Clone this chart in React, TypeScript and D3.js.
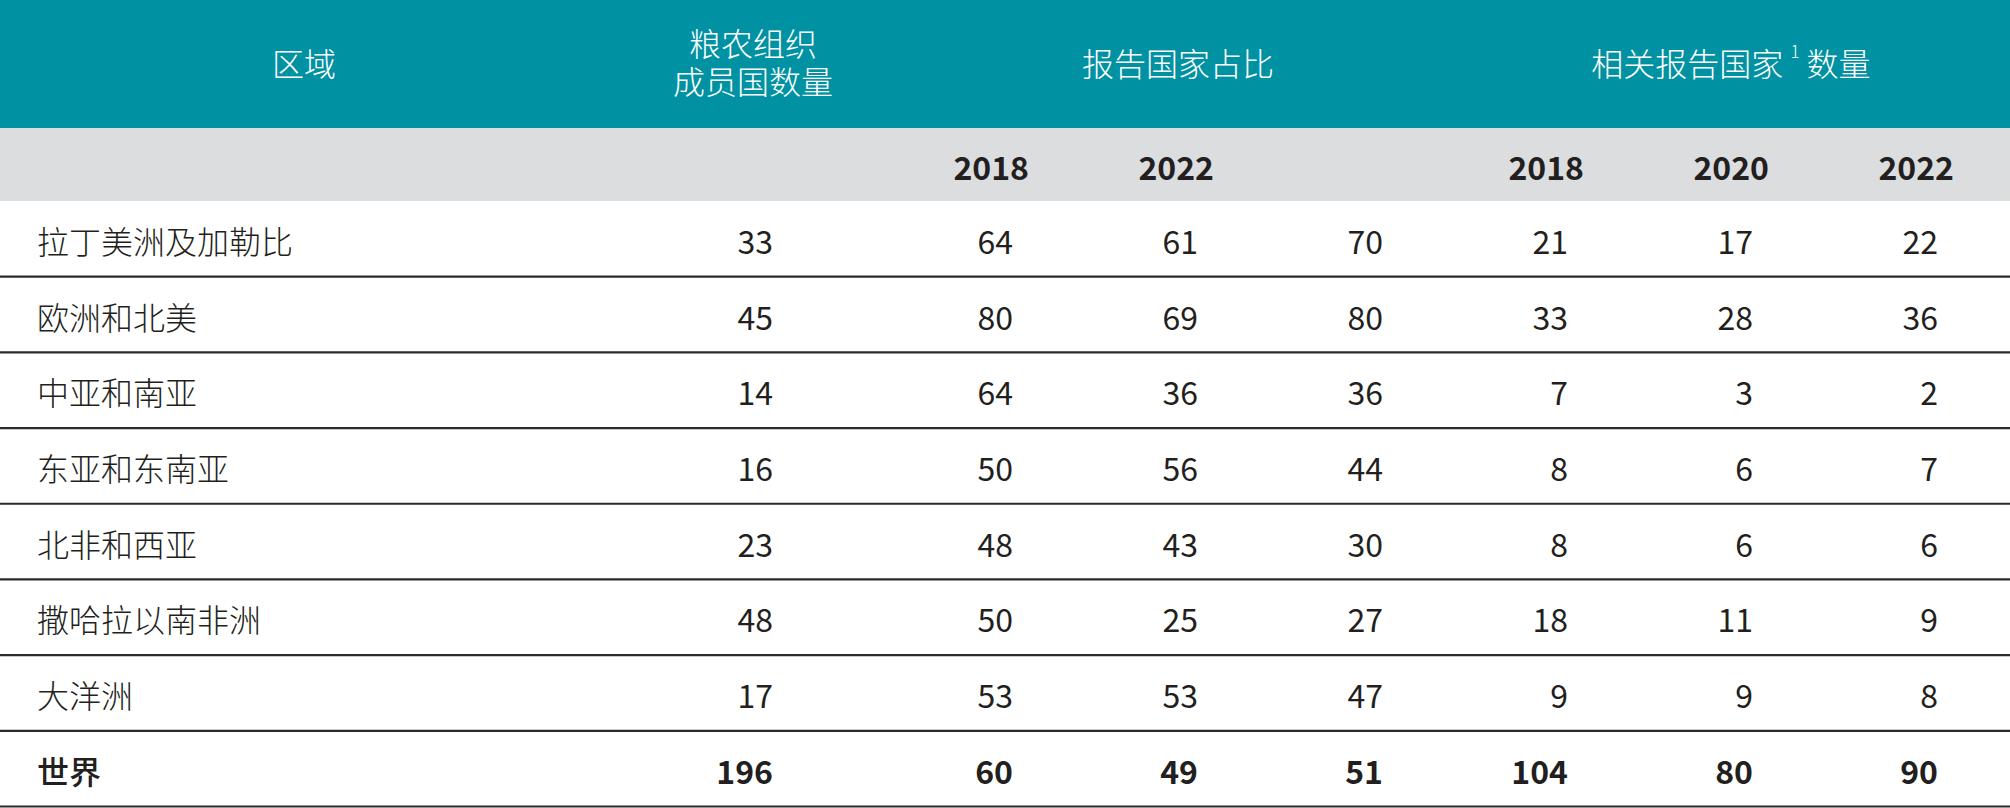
import React, { useRef, useEffect } from "react";
import * as d3 from "d3";

// ─── Table data ─────────────────────────────────────────────────────────
const regions = [
  "拉丁美洲及加勒比",
  "欧洲和北美",
  "中亚和南亚",
  "东亚和东南亚",
  "北非和西亚",
  "撒哈拉以南非洲",
  "大洋洲",
  "世界",
];
const memberCounts = [33, 45, 14, 16, 23, 48, 17, 196];
const share2018 = [64, 80, 64, 50, 48, 50, 53, 60];
const share2022 = [61, 69, 36, 56, 43, 25, 53, 49];
const shareNoLabel = [70, 80, 36, 44, 30, 27, 47, 51];
const count2018 = [21, 33, 7, 8, 8, 18, 9, 104];
const count2020 = [17, 28, 3, 6, 6, 11, 9, 80];
const count2022 = [22, 36, 2, 7, 6, 9, 8, 90];

const valueColumns = [share2018, share2022, shareNoLabel, count2018, count2020, count2022];
const yearLabels = ["2018", "2022", "", "2018", "2020", "2022"];
const totalRow = "世界";

const W = 2010;
const H = 808;
const FONT = "'Noto Sans CJK SC', 'Noto Sans', sans-serif";

const App = () => {
  const svgRef = useRef<SVGSVGElement>(null);

  useEffect(() => {
    const headerH = 128;
    const subBottom = 201;
    const tableBottom = 806.5;
    const teal = "#0091A2";
    const grey = "#DCDDDF";
    const ink = "#231F20";

    const svg = d3.select(svgRef.current);
    svg.selectAll("*").remove();

    // column positions (right edge of numbers)
    const memberX = 773;
    const x = d3
      .scalePoint<number>()
      .domain(d3.range(valueColumns.length))
      .range([1013, 1938]);

    const y = d3
      .scaleBand<string>()
      .domain(regions)
      .range([subBottom, tableBottom]);

    // ─── backgrounds ───────────────────────────────────────────────────
    svg.append("rect").attr("x", 0).attr("y", 0).attr("width", W).attr("height", headerH).attr("fill", teal);
    svg.append("rect").attr("x", 0).attr("y", headerH).attr("width", W).attr("height", subBottom - headerH).attr("fill", grey);

    // ─── header texts ──────────────────────────────────────────────────
    const head = svg.append("g")
      .attr("fill", "#ffffff")
      .style("font-family", FONT)
      .style("font-size", "32px")
      .style("font-weight", "300")
      .attr("text-anchor", "middle")
      .attr("dominant-baseline", "central");

    head.append("text").attr("x", 304).attr("y", 62).text("区域");
    head.append("text").attr("x", memberX - 20).attr("y", 42).text("粮农组织");
    head.append("text").attr("x", memberX - 20).attr("y", 80).text("成员国数量");

    const shareCenter = ((x(0) as number) + (x(2) as number)) / 2 - 20;
    head.append("text").attr("x", shareCenter).attr("y", 62).text("报告国家占比");

    const countCenter = ((x(3) as number) + (x(5) as number)) / 2 - 22;
    const t = head.append("text").attr("x", countCenter).attr("y", 62);
    t.append("tspan").text("相关报告国家 ");
    t.append("tspan").attr("dy", -12).style("font-size", "17px").text("1");
    t.append("tspan").attr("dy", 12).text(" 数量");

    // ─── sub header (years) ────────────────────────────────────────────
    svg.append("g")
      .selectAll("text")
      .data(yearLabels)
      .join("text")
      .attr("x", (_, i) => (x(i) as number) + 16)
      .attr("y", (headerH + subBottom) / 2 + 1)
      .attr("text-anchor", "end")
      .attr("dominant-baseline", "central")
      .attr("fill", ink)
      .style("font-family", FONT)
      .style("font-size", "32px")
      .style("font-weight", "700")
      .text((d) => d);

    // ─── body rows ─────────────────────────────────────────────────────
    const rows = svg.append("g")
      .selectAll("g")
      .data(regions)
      .join("g")
      .attr("transform", (d) => `translate(0,${y(d)})`)
      .style("font-family", FONT)
      .style("font-size", "32px")
      .style("font-weight", (d) => (d === totalRow ? "700" : "400"))
      .attr("fill", ink);

    const mid = y.bandwidth() / 2 + 1;

    // region label: total row is only a touch heavier in the source
    rows.append("text")
      .attr("x", 37)
      .attr("y", mid)
      .attr("dominant-baseline", "central")
      .style("font-weight", (d) => (d === totalRow ? "500" : "300"))
      .text((d) => d);

    rows.append("text")
      .attr("x", memberX)
      .attr("y", mid)
      .attr("text-anchor", "end")
      .attr("dominant-baseline", "central")
      .text((_, i) => memberCounts[i]);

    rows.each(function (_, ri) {
      d3.select(this)
        .selectAll("text.val")
        .data(valueColumns)
        .join("text")
        .attr("class", "val")
        .attr("x", (_, ci) => x(ci) as number)
        .attr("y", mid)
        .attr("text-anchor", "end")
        .attr("dominant-baseline", "central")
        .text((col) => col[ri]);
    });

    rows.append("line")
      .attr("x1", 0)
      .attr("x2", W)
      .attr("y1", y.bandwidth())
      .attr("y2", y.bandwidth())
      .attr("stroke", "#2b2b2b")
      .attr("stroke-width", 2.2);
  }, []);

  return (
    <svg
      ref={svgRef}
      width={W}
      height={H}
      viewBox={`0 0 ${W} ${H}`}
      style={{ position: "absolute", left: 0, top: 0, background: "#ffffff" }}
    />
  );
};

export default App;
